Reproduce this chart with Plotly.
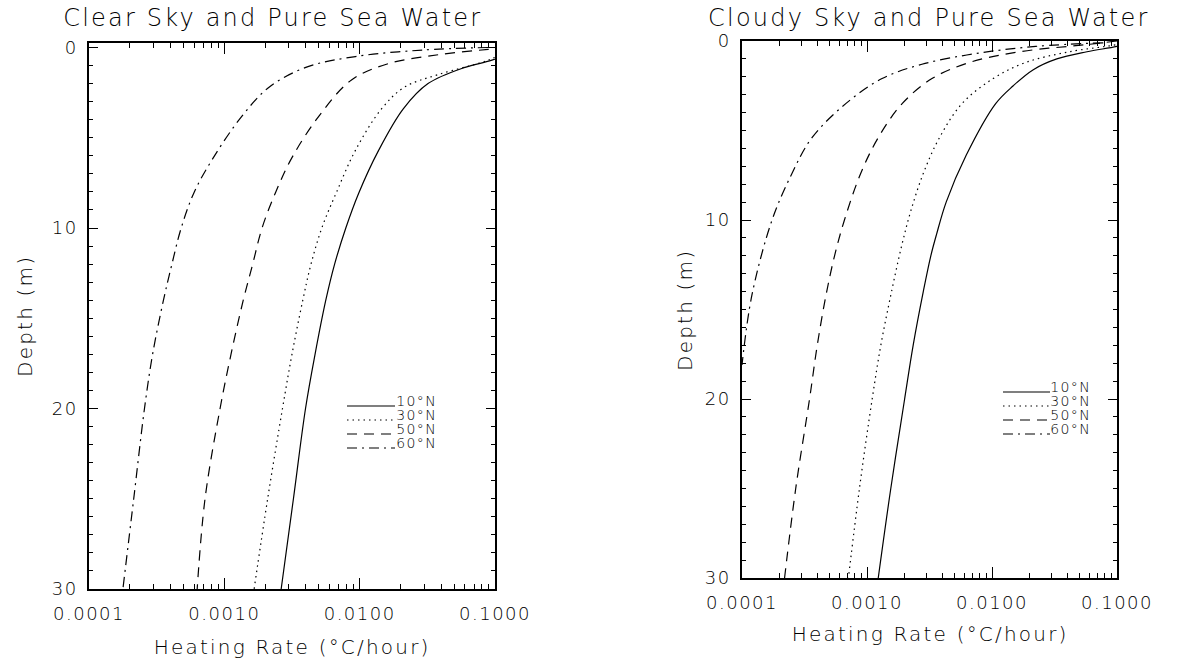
import plotly.graph_objects as go

# ---------------- data ----------------
latitudes = ["10°N", "30°N", "50°N", "60°N"]

# Clear sky panel: depth (m) and heating rate (°C/hour)
clear_depth_10 = [0, 0.7, 1.1, 2.0, 3.4, 5.7, 8.1, 10, 12, 14, 17, 20, 25, 30]
clear_rate_10 = [0.16, 0.095, 0.060, 0.032, 0.021, 0.0138, 0.0098, 0.0079, 0.00653, 0.00562, 0.00468, 0.00398, 0.00324, 0.00263]
clear_depth_30 = [0, 0.7, 1.5, 2.2, 3.4, 5.7, 8, 10, 12, 14, 17, 20, 25, 30]
clear_rate_30 = [0.14, 0.089, 0.038, 0.0214, 0.0145, 0.0093, 0.00676, 0.00525, 0.00437, 0.0038, 0.00316, 0.00269, 0.00209, 0.00166]
clear_depth_50 = [0, 0.1, 0.4, 0.9, 1.8, 3.8, 6.1, 8, 10, 12, 14, 17, 20, 25, 30]
clear_rate_50 = [0.12, 0.089, 0.038, 0.0162, 0.0087, 0.0050, 0.00316, 0.0024, 0.0019, 0.00162, 0.00138, 0.00112, 0.00093, 0.00072, 0.00063]
clear_depth_60 = [0, 0.14, 0.5, 1.1, 2.2, 3.8, 6.1, 8, 10, 12, 14, 17, 20, 25, 30]
clear_rate_60 = [0.089, 0.029, 0.0093, 0.0040, 0.00214, 0.00135, 0.00083, 0.00060, 0.00048, 0.00041, 0.000355, 0.000295, 0.000257, 0.000214, 0.000178]

# Cloudy sky panel
cloudy_depth_10 = [0, 0.3, 0.6, 1.0, 1.6, 2.5, 3.5, 6.4, 9.0, 10.8, 12, 14, 17, 20, 25, 30]
cloudy_rate_10 = [0.15, 0.100, 0.0575, 0.033, 0.0214, 0.0148, 0.0107, 0.0062, 0.0043, 0.0036, 0.00324, 0.00282, 0.00234, 0.0020, 0.00155, 0.00123]
cloudy_depth_30 = [0, 0.2, 0.6, 1.2, 2.1, 3.5, 5.4, 7.4, 9.5, 11.4, 14.2, 17, 20, 25, 30]
cloudy_rate_30 = [0.13, 0.100, 0.0417, 0.0186, 0.0102, 0.00575, 0.0038, 0.00282, 0.00224, 0.0019, 0.00155, 0.00129, 0.0011, 0.00087, 0.00071]
cloudy_depth_50 = [0, 0.2, 0.6, 1.2, 2.1, 3.5, 5.4, 7.4, 10, 12, 14.2, 17, 20, 25, 30]
cloudy_rate_50 = [0.100, 0.0575, 0.0166, 0.0066, 0.00331, 0.00191, 0.00123, 0.00089, 0.00066, 0.00055, 0.00047, 0.0004, 0.000347, 0.000269, 0.000219]
cloudy_depth_60 = [0.1, 0.3, 0.7, 1.3, 2.1, 3.5, 5.4, 7.4, 10.0, 14.2, 18.1]
cloudy_rate_60 = [0.0776, 0.0224, 0.0074, 0.00275, 0.00132, 0.000676, 0.000363, 0.000251, 0.000174, 0.00012, 0.000100]

panel_titles = ["Clear Sky and Pure Sea Water", "Cloudy Sky and Pure Sea Water"]
x_title = "Heating Rate (°C/hour)"
y_title = "Depth (m)"

# ---------------- styling ----------------
W, H = 1198, 667
FONT = "DejaVu Sans"
WEIGHT = 200
dashes = ["solid", "1.5px,4px", "10px,7px", "10px,5px,2px,5px"]
LW = 1.2


def px(x):
    return x / W


def py(y):
    return 1 - y / H


fig = go.Figure()

clear_series = [(clear_depth_10, clear_rate_10), (clear_depth_30, clear_rate_30),
                (clear_depth_50, clear_rate_50), (clear_depth_60, clear_rate_60)]
cloudy_series = [(cloudy_depth_10, cloudy_rate_10), (cloudy_depth_30, cloudy_rate_30),
                 (cloudy_depth_50, cloudy_rate_50), (cloudy_depth_60, cloudy_rate_60)]

for axes, series in [(("x", "y"), clear_series), (("x2", "y2"), cloudy_series)]:
    for i, (d, r) in enumerate(series):
        fig.add_trace(go.Scatter(x=r, y=d, mode="lines", name=latitudes[i],
                                 line=dict(color="black", width=LW, dash=dashes[i],
                                           shape="spline", smoothing=1.0),
                                 xaxis=axes[0], yaxis=axes[1], showlegend=False))

tickfont = dict(family=FONT, size=18, color="black", weight=WEIGHT)


def xaxis_cfg(domain, anchor):
    return dict(type="log", range=[-4, -1], domain=domain, anchor=anchor,
                tickmode="linear", tick0=0, dtick=1, tickformat=".4f",
                ticks="inside", ticklen=11, tickwidth=1, tickcolor="black",
                minor=dict(ticks="inside", ticklen=5, dtick="D1", tickwidth=1,
                           tickcolor="black", showgrid=False),
                showline=True, linecolor="black", linewidth=1.6, mirror="ticks",
                showgrid=False, zeroline=False, tickfont=tickfont,
                ticklabelstandoff=8, automargin=False)


def yaxis_cfg(domain, anchor, rng):
    return dict(range=rng, domain=domain, anchor=anchor,
                tickmode="linear", tick0=0, dtick=10,
                ticks="inside", ticklen=9, tickwidth=1, tickcolor="black",
                minor=dict(ticks="inside", ticklen=4, dtick=1, tickwidth=1,
                           tickcolor="black", showgrid=False),
                showline=True, linecolor="black", linewidth=1.6, mirror="ticks",
                showgrid=False, zeroline=False, tickfont=tickfont,
                ticklabelstandoff=6, automargin=False)


L = dict(x0=89, x1=495, y0=43, y1=589)
R = dict(x0=742, x1=1117, y0=41, y1=578)

fig.update_layout(
    width=W, height=H, margin=dict(l=0, r=0, t=0, b=0, pad=0, autoexpand=False),
    paper_bgcolor="white", plot_bgcolor="white", showlegend=False,
    font=dict(family=FONT, color="black"),
    xaxis=xaxis_cfg([px(L["x0"]), px(L["x1"])], "y"),
    yaxis=yaxis_cfg([py(L["y1"]), py(L["y0"])], "x", [30, -0.25]),
    xaxis2=xaxis_cfg([px(R["x0"]), px(R["x1"])], "y2"),
    yaxis2=yaxis_cfg([py(R["y1"]), py(R["y0"])], "x2", [30, 0]),
)

ann = []
shapes = []
# panel titles
for text, cx in [(panel_titles[0], 273), (panel_titles[1], 929)]:
    ann.append(dict(text=text, x=px(cx), y=py(18), xref="paper", yref="paper",
                    xanchor="center", yanchor="middle", showarrow=False,
                    font=dict(family=FONT, size=24, color="black", weight=WEIGHT)))
# axis titles
for (cx, cy) in [(292, 647), (930, 634)]:
    ann.append(dict(text=x_title, x=px(cx), y=py(cy), xref="paper", yref="paper",
                    xanchor="center", yanchor="middle", showarrow=False,
                    font=dict(family=FONT, size=20, color="black", weight=WEIGHT)))
for (cx, cy) in [(25, 316), (685, 310)]:
    ann.append(dict(text=y_title, x=px(cx), y=py(cy), xref="paper", yref="paper",
                    xanchor="center", yanchor="middle", showarrow=False, textangle=-90,
                    font=dict(family=FONT, size=20, color="black", weight=WEIGHT)))

# legends (drawn inside each panel)
legend_specs = [(347, 395, 397, [401, 415, 429, 443]),
                (1003, 1050, 1051, [387, 401, 415, 429])]
for (lx0, lx1, tx, rows) in legend_specs:
    for i, lab in enumerate(latitudes):
        yc = rows[i]
        shapes.append(dict(type="line", xref="paper", yref="paper",
                           x0=px(lx0), x1=px(lx1), y0=py(yc + 5), y1=py(yc + 5),
                           line=dict(color="black", width=LW, dash=dashes[i])))
        ann.append(dict(text=lab, x=px(tx), y=py(yc), xref="paper", yref="paper",
                        xanchor="left", yanchor="middle", showarrow=False,
                        font=dict(family=FONT, size=14, color="black", weight=WEIGHT)))

fig.update_layout(annotations=ann, shapes=shapes)

post = """
(function(){
  function spread(){
    var gd = document.getElementsByClassName('plotly-graph-div')[0];
    if(!gd) return;
    gd.querySelectorAll('svg text').forEach(function(e){
      var fs = parseFloat(e.style.fontSize || '0');
      var s = fs >= 20 ? 2.2 : (fs >= 16 ? 1.5 : 1.4);
      e.style.letterSpacing = s + 'px';
    });
  }
  spread();
  var gd = document.getElementsByClassName('plotly-graph-div')[0];
  if(gd && gd.on){ gd.on('plotly_afterplot', spread); }
})();
"""

fig.write_html("out.html", post_script=post)
